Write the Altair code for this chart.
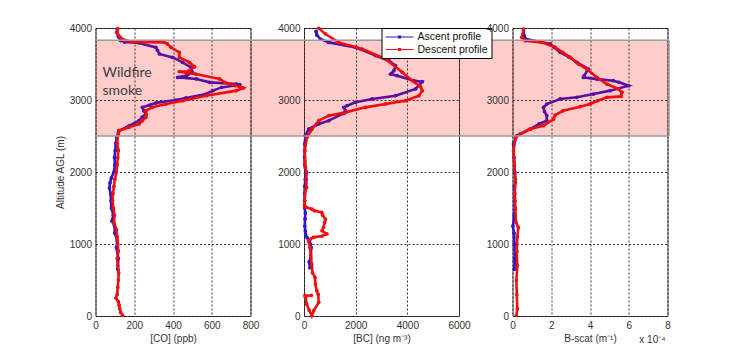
import altair as alt
import pandas as pd

# ---------------- data ----------------
PROFILES = ["Ascent profile", "Descent profile"]
ALT_TICKS = [0, 500, 1000, 1500, 2000, 2500, 3000, 3500, 4000]
BAND = [2500, 3830]  # wildfire smoke layer (m)
SMOKE_TEXT = ["Wildfire", "smoke"]
SMOKE_TEXT_ALT = [3375, 3120]

# CO (ppb)
co_asc_alt = [650, 800, 950, 1050, 1150, 1250, 1320, 1400, 1500, 1600, 1700, 1780, 1850, 1920,
              2000, 2100, 2200, 2300, 2400, 2480, 2540, 2574, 2620, 2642, 2713, 2760, 2805, 2850,
              2898, 2930, 2960, 3000, 3028, 3083, 3130, 3175, 3213, 3222, 3245, 3292, 3314, 3340,
              3384, 3453, 3522, 3592, 3640, 3690, 3731, 3792, 3805, 3826, 3880, 3940, 3986]
co_asc = [115, 118, 108, 112, 100, 98, 85, 92, 82, 80, 78, 72, 75, 82,
          95, 100, 98, 102, 105, 110, 118, 121, 160, 173, 225, 240, 260, 250,
          242, 280, 312, 415, 467, 571, 606, 650, 745, 727, 589, 522, 424, 470,
          500, 493, 450, 398, 330, 320, 312, 225, 150, 130, 118, 110, 112]
co_desc_alt = [3990, 3940, 3870, 3830, 3805, 3800, 3780, 3731, 3661, 3592, 3522, 3462, 3400, 3395,
               3375, 3360, 3292, 3245, 3200, 3167, 3130, 3060, 2990, 2945, 2898, 2852, 2800, 2760,
               2710, 2667, 2620, 2574, 2500, 2400, 2300, 2200, 2100, 2000, 1900, 1800, 1700, 1600,
               1500, 1400, 1300, 1200, 1100, 1000, 900, 800, 700, 600, 500, 400, 300, 250, 200,
               150, 100, 50, 10]
co_desc = [115, 110, 128, 150, 200, 355, 370, 390, 433, 433, 485, 511, 480, 433,
           470, 517, 641, 667, 720, 762, 727, 571, 450, 364, 294, 260, 262, 260,
           240, 225, 173, 121, 115, 112, 118, 115, 112, 108, 100, 95, 90, 88,
           92, 98, 95, 108, 112, 115, 118, 112, 115, 120, 118, 115, 112, 105, 118,
           122, 125, 130, 140]

# BC (ng m-3)
bc_asc_alt = [670, 750, 810, 950, 1000, 1050, 1090, 1130, 1180, 1250, 1350, 1430, 1500, 1600,
              1700, 1800, 1900, 1980, 2100, 2200, 2300, 2390, 2505, 2597, 2667, 2713, 2815, 2852,
              2898, 2921, 2968, 3014, 3060, 3153, 3254, 3268, 3338, 3361, 3407, 3476, 3546, 3616,
              3731, 3800, 3847, 3900, 3953]
bc_asc = [230, 200, 260, 280, 250, 200, 120, 60, 50, 30, 40, 50, 30, 20,
          25, 30, 50, 60, 30, 20, 25, 30, 54, 182, 570, 958, 1540, 1606,
          1540, 1668, 1994, 2638, 3545, 4320, 4578, 4256, 3610, 3352, 3480, 3545, 3286, 2770,
          1994, 958, 636, 500, 466]
bc_desc_alt = [3995, 3917, 3800, 3708, 3570, 3384, 3268, 3185, 3130, 3060, 2991, 2945, 2898, 2828,
               2782, 2713, 2597, 2481, 2296, 2150, 2064, 2000, 1900, 1786, 1740, 1600, 1540, 1509,
               1486, 1462, 1439, 1400, 1346, 1300, 1231, 1185, 1139, 1110, 1092, 1069, 1043, 950,
               850, 722, 600, 536, 444, 351, 300, 190, 74, 4, 80, 166, 260, 282, 285]
bc_desc = [570, 830, 1346, 2250, 3158, 3804, 4190, 4514, 4578, 4450, 3934, 3158, 2380, 1606,
           958, 570, 310, 116, 30, 40, 54, 100, 90, 100, 50, 30, 20, 80,
           300, 400, 690, 720, 830, 800, 753, 700, 880, 700, 365, 248, 170, 233,
           260, 300, 330, 427, 440, 492, 550, 570, 376, 300, 200, 105, 60, 40, 280]

# B-scat (x 10^-4 m-1)
bs_asc_alt = [650, 800, 1000, 1150, 1250, 1400, 1600, 1800, 1850, 2000, 2200, 2390, 2505, 2597,
              2667, 2713, 2782, 2840, 2898, 2944, 3014, 3037, 3083, 3130, 3199, 3245, 3268, 3290,
              3314, 3338, 3430, 3523, 3600, 3662, 3731, 3778, 3847, 3893, 3963]
bs_asc = [0.10, 0.12, 0.10, 0.08, 0.02, 0.10, 0.12, 0.10, 0.15, 0.12, 0.08, 0.05, 0.23, 0.91,
          1.38, 1.77, 1.77, 1.65, 1.60, 1.77, 2.46, 3.32, 4.18, 5.04, 5.99, 5.50, 5.20, 4.36,
          3.66, 3.70, 3.92, 3.32, 2.90, 2.46, 2.15, 1.95, 0.69, 0.60, 0.57]
bs_desc_alt = [3986, 3870, 3824, 3800, 3731, 3660, 3592, 3500, 3430, 3314, 3222, 3153, 3106, 3050,
               3037, 2990, 2944, 2907, 2850, 2790, 2736, 2643, 2597, 2528, 2482, 2296, 2100, 1900,
               1700, 1500, 1300, 1230, 1100, 900, 700, 500, 300, 100, 10]
bs_desc = [0.57, 0.48, 0.66, 1.50, 2.20, 2.60, 2.98, 3.40, 3.84, 4.36, 4.87, 5.47, 5.65, 5.60,
           4.88, 4.40, 4.00, 3.49, 2.60, 2.20, 2.12, 1.60, 0.91, 0.40, 0.17, 0.05, 0.10, 0.15,
           0.12, 0.15, 0.18, 0.30, 0.25, 0.22, 0.25, 0.20, 0.22, 0.25, 0.20]

CO_TICKS = [0, 200, 400, 600, 800]
BC_TICKS = [0, 2000, 4000, 6000]
BS_TICKS = [0, 2, 4, 6, 8]
EXP_LABEL = "x 10\u207b\u2074"

# ---------------- layout / style ----------------
W, H, GAP = 155, 288, 53.5
BLUE, RED = "#2e14cc", "#ee1111"
FONT = "Liberation Sans"
# legend glyph: a line with a small marker in the middle
LEGEND_GLYPH = "M-2.8,0H2.8M-0.2,-0.2H0.2V0.2H-0.2Z"


def frame(alts, vals, name):
    return pd.DataFrame({"alt": alts, "val": vals, "profile": name,
                         "seq": list(range(len(alts)))})


def panel(asc, desc, xdom, xticks, xtitle, ytitle, legend, band_x2, extra=None):
    color_scale = alt.Scale(domain=PROFILES, range=[BLUE, RED])
    if legend:
        color = alt.Color("profile:N", scale=color_scale, legend=alt.Legend(
            orient="none", legendX=77.5, legendY=0, title="", fillColor="white",
            strokeColor="#000", padding=3, symbolType=LEGEND_GLYPH, symbolSize=100,
            symbolStrokeWidth=1.2, symbolOffset=9, labelFont=FONT, labelFontSize=10.5,
            labelColor="#111", rowPadding=0.5, labelOffset=12))
    else:
        color = alt.Color("profile:N", scale=color_scale, legend=None)
    x = alt.X("val:Q", scale=alt.Scale(domain=xdom, nice=False),
              axis=alt.Axis(values=xticks, title=xtitle, format="d"))
    y = alt.Y("alt:Q", scale=alt.Scale(domain=[0, 4000], nice=False),
              axis=alt.Axis(values=ALT_TICKS, title=ytitle, format="d"))
    line_kw = dict(strokeWidth=2.6, point=alt.OverlayMarkDef(filled=True, size=14))
    l_asc = alt.Chart(asc).mark_line(**line_kw).encode(x=x, y=y, color=color, order="seq:Q")
    l_desc = alt.Chart(desc).mark_line(**line_kw).encode(x=x, y=y, color=color, order="seq:Q")
    band_df = pd.DataFrame({"bot": [BAND[0]], "top": [BAND[1]]})
    band = alt.Chart(band_df).mark_rect(color="#ff0000", opacity=0.2).encode(
        y="top:Q", y2="bot:Q", x=alt.value(0), x2=alt.value(band_x2))
    edges = alt.Chart(pd.DataFrame({"edge": BAND})).mark_rule(
        color="#9a9a9a", strokeWidth=1.5).encode(
        y="edge:Q", x=alt.value(0), x2=alt.value(band_x2))
    layers = [l_asc, l_desc, band, edges]
    if extra is not None:
        layers += extra
    return alt.layer(*layers).properties(width=W, height=H)


smoke = alt.Chart(pd.DataFrame({"alt": SMOKE_TEXT_ALT, "label": SMOKE_TEXT})).mark_text(
    align="left", baseline="middle", font="Lato", fontSize=14, color="#404040").encode(
    x=alt.value(7), y="alt:Q", text="label:N")

exp_text = alt.Chart(pd.DataFrame({"t": [EXP_LABEL]})).mark_text(
    align="right", baseline="middle", font=FONT, fontSize=10, color="#333").encode(
    x=alt.value(153), y=alt.value(312), text="t:N")

right_edge = alt.Chart(pd.DataFrame({"bot": [BAND[0]], "top": [BAND[1]]})).mark_rule(
    color="#9a9a9a", strokeWidth=1.5).encode(x=alt.value(W + 1.5), y="top:Q", y2="bot:Q")

p1 = panel(frame(co_asc_alt, co_asc, PROFILES[0]), frame(co_desc_alt, co_desc, PROFILES[1]),
           [0, 800], CO_TICKS, "[CO] (ppb)", "Altitude AGL (m)", False, W + GAP, [smoke])
p2 = panel(frame(bc_asc_alt, bc_asc, PROFILES[0]), frame(bc_desc_alt, bc_desc, PROFILES[1]),
           [0, 6000], BC_TICKS, "[BC] (ng m\u207b\u00b3)", "", True, W + GAP)
p3 = panel(frame(bs_asc_alt, bs_asc, PROFILES[0]), frame(bs_desc_alt, bs_desc, PROFILES[1]),
           [0, 8], BS_TICKS, "B-scat (m\u207b\u00b9)", "", False, W + 1.5, [right_edge, exp_text])

chart = alt.hconcat(p1, p2, p3, spacing=GAP, bounds="flush").resolve_legend(
    color="independent").properties(
    padding={"top": 14, "left": 46.5, "right": 5, "bottom": 5}
).configure_view(stroke="#444", strokeWidth=1).configure_axis(
    labelFont=FONT, labelFontSize=10, labelColor="#333", labelFlush=False,
    titleFont=FONT, titleFontSize=10, titleFontWeight="normal", titleColor="#333",
    grid=True, gridColor="#111", gridDash=[2, 2], gridOpacity=0.85, gridWidth=1,
    domain=False, ticks=False, labelPadding=4, titlePadding=3
).configure_axisY(titlePadding=4)

chart.save("out.html", embed_options={"renderer": "svg", "actions": False})
